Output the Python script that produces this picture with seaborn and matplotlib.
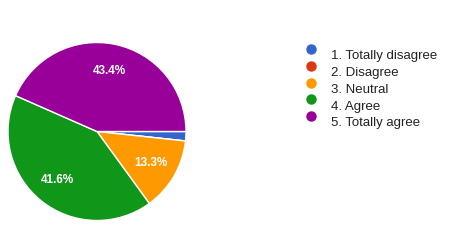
import matplotlib
matplotlib.use("Agg")
import matplotlib.pyplot as plt
from matplotlib.lines import Line2D
from matplotlib.legend_handler import HandlerLine2D
import seaborn as sns

labels = ["1. Totally disagree", "2. Disagree", "3. Neutral", "4. Agree", "5. Totally agree"]
shares = [1.7, 0.0, 13.3, 41.6, 43.4]
colors = ["#3366cc", "#dc3912", "#ff9900", "#109618", "#990099"]

sns.set_style("white")
plt.rcParams["font.family"] = ["Liberation Sans", "DejaVu Sans"]

fig = plt.figure(figsize=(4.58, 2.52), dpi=100)
ax = fig.add_axes([8 / 458, 31.5 / 252, 178 / 458, 178 / 252])


def pct(v):
    return f"{v:.1f}%" if v >= 5 else ""


wedges, texts, autotexts = ax.pie(
    shares, colors=colors, startangle=0, counterclock=False,
    autopct=pct, pctdistance=0.7,
    wedgeprops=dict(edgecolor="white", linewidth=1),
    textprops=dict(color="white", fontsize=8.5, fontweight="bold"),
)
ax.set_xlim(-1, 1)
ax.set_ylim(-1, 1)
ax.set_aspect("equal")


class RaisedDot(HandlerLine2D):
    # google-style legend: dot sits a bit above the text line
    def create_artists(self, legend, orig, xdescent, ydescent, width, height, fontsize, trans):
        return super().create_artists(legend, orig, xdescent, ydescent - 8, width, height, fontsize, trans)


handles = [Line2D([], [], marker="o", linestyle="", markersize=6.5,
                  markerfacecolor=c, markeredgecolor=c) for c in colors]
fig.legend(handles, labels, loc="upper left", bbox_to_anchor=(298 / 458, 1 - 44.5 / 252),
           frameon=False, fontsize=9.5, handlelength=1.2, handletextpad=0.9,
           labelspacing=0.35, borderaxespad=0, labelcolor="#222222",
           handler_map={Line2D: RaisedDot()})

fig.savefig("out.png", dpi=100)
